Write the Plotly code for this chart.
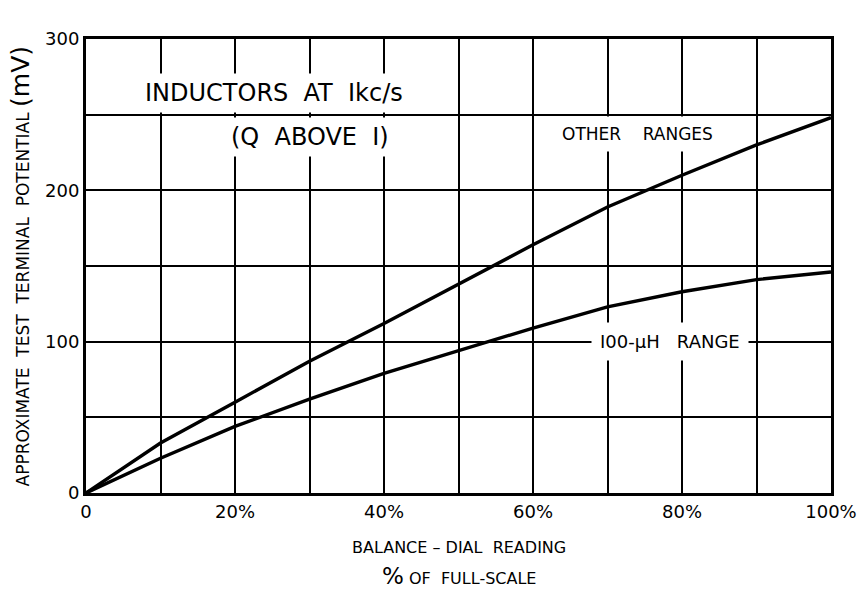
import plotly.graph_objects as go

# Data
dial_pct = [0, 10, 20, 30, 40, 50, 60, 70, 80, 90, 100]
other_ranges_mv = [0, 33, 60, 87, 112, 138, 164, 189, 210, 230, 248]
uh100_range_mv = [0, 23, 44, 62, 79, 94, 109, 123, 133, 141, 146]

x_tickvals = [0, 10, 20, 30, 40, 50, 60, 70, 80, 90, 100]
x_ticktext = ["0", "", "20%", "", "40%", "", "60%", "", "80%", "", "100%"]
y_tickvals = [0, 50, 100, 150, 200, 250, 300]
y_ticktext = ["0", "", "100", "", "200", "", "300"]

FONT = "DejaVu Sans"

fig = go.Figure()
fig.add_trace(go.Scatter(x=dial_pct, y=other_ranges_mv, mode="lines",
                         line=dict(color="black", width=3.4), showlegend=False))
fig.add_trace(go.Scatter(x=dial_pct, y=uh100_range_mv, mode="lines",
                         line=dict(color="black", width=3.4), showlegend=False))

fig.update_layout(
    width=862, height=590,
    margin=dict(l=86, r=31, t=39, b=97),
    paper_bgcolor="white", plot_bgcolor="white",
    font=dict(family=FONT, color="black"),
    xaxis=dict(range=[0, 100], tickvals=x_tickvals, ticktext=x_ticktext,
               showgrid=True, gridcolor="black", gridwidth=2,
               showline=True, linecolor="black", linewidth=3, mirror=True,
               ticks="", zeroline=False, tickfont=dict(size=18), automargin=False),
    yaxis=dict(range=[0, 300], tickvals=y_tickvals, ticktext=y_ticktext,
               showgrid=True, gridcolor="black", gridwidth=2,
               showline=True, linecolor="black", linewidth=3, mirror=True,
               ticks="", zeroline=False, tickfont=dict(size=18), automargin=False),
)

# y-axis label
fig.add_annotation(x=-0.088, y=0.5, xref="paper", yref="paper", xanchor="center", yanchor="middle",
                   textangle=-90, showarrow=False,
                   text='APPROXIMATE  TEST  TERMINAL  POTENTIAL <span style="font-size:25px">(mV)</span>',
                   font=dict(size=17, family=FONT))

fig.add_annotation(x=25.3, y=264, xref="x", yref="y", text="INDUCTORS  AT  Ikc/s",
                   font=dict(size=24, family=FONT), borderpad=5, showarrow=False, bgcolor="white")
fig.add_annotation(x=30, y=235, xref="x", yref="y", text="(Q  ABOVE  I)",
                   font=dict(size=24, family=FONT), borderpad=5, showarrow=False, bgcolor="white")
fig.add_annotation(x=74.0, y=237, xref="x", yref="y", text="OTHER    RANGES",
                   font=dict(size=17, family=FONT), borderpad=7, showarrow=False, bgcolor="white")
fig.add_annotation(x=78.4, y=100, xref="x", yref="y", text="I00-µH   RANGE",
                   font=dict(size=18, family=FONT), borderpad=8, showarrow=False, bgcolor="white")

fig.add_annotation(x=0.5, y=-0.119, xref="paper", yref="paper", yanchor="middle",
                   text="BALANCE – DIAL  READING", showarrow=False,
                   font=dict(size=16, family=FONT))
fig.add_annotation(x=0.5, y=-0.183, xref="paper", yref="paper", yanchor="middle",
                   text='<span style="font-size:23px">%</span> OF  FULL-SCALE', showarrow=False,
                   font=dict(size=16, family=FONT))

fig.write_html("out.html", config={"displayModeBar": False},
               post_script="document.body.style.margin='0';")
